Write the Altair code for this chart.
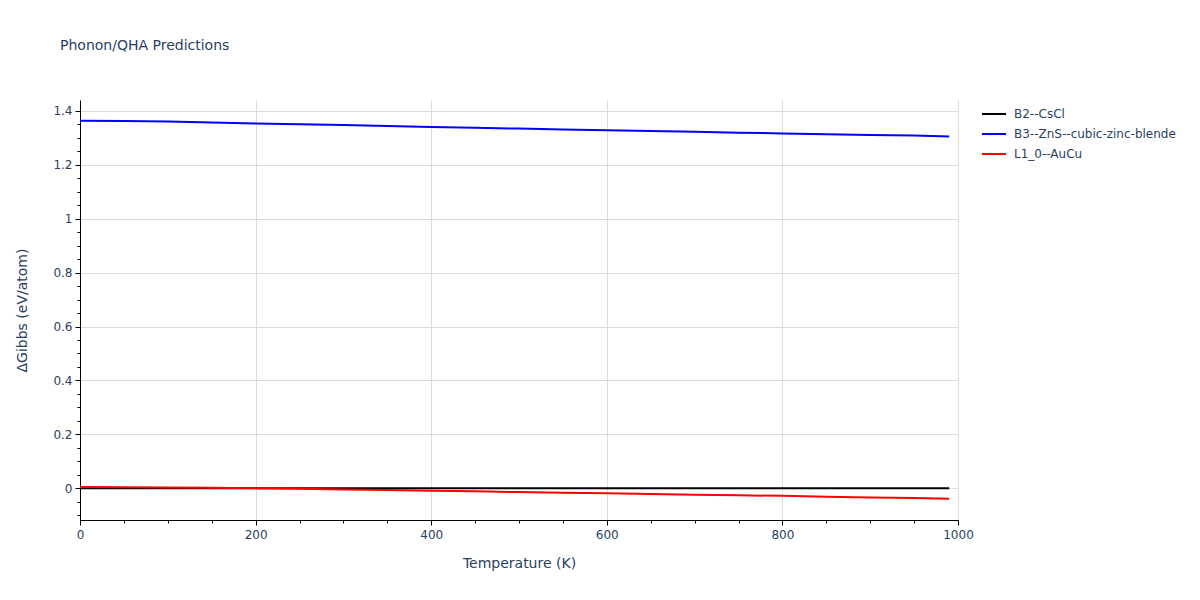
import altair as alt
import pandas as pd

temps = [0, 50, 100, 150, 200, 250, 300, 350, 400, 450, 500, 550, 600, 650, 700, 750, 800, 850, 900, 950, 990]
b2_cscl = [0.0, 0.0, 0.0, 0.0, 0.0, 0.0, 0.0, 0.0, 0.0, 0.0, 0.0, 0.0, 0.0, 0.0, 0.0, 0.0, 0.0, 0.0, 0.0, 0.0, 0.0]
b3_zns = [1.363, 1.362, 1.360, 1.357, 1.353, 1.350, 1.347, 1.344, 1.340, 1.337, 1.334, 1.331,
          1.328, 1.325, 1.322, 1.319, 1.316, 1.313, 1.310, 1.308, 1.305]
l10_aucu = [0.005, 0.004, 0.003, 0.002, 0.000, -0.002, -0.004, -0.006, -0.009, -0.011, -0.014, -0.016,
            -0.018, -0.021, -0.024, -0.026, -0.028, -0.031, -0.034, -0.036, -0.039]
series_names = ["B2--CsCl", "B3--ZnS--cubic-zinc-blende", "L1_0--AuCu"]
series_colors = ["black", "blue", "red"]

x_ticks = [0, 50, 100, 150, 200, 250, 300, 350, 400, 450, 500, 550, 600, 650, 700, 750, 800, 850, 900, 950, 1000]
y_ticks = [-0.1, -0.05, 0, 0.05, 0.1, 0.15, 0.2, 0.25, 0.3, 0.35, 0.4, 0.45, 0.5, 0.55, 0.6, 0.65,
           0.7, 0.75, 0.8, 0.85, 0.9, 0.95, 1.0, 1.05, 1.1, 1.15, 1.2, 1.25, 1.3, 1.35, 1.4]

rows = []
for name, vals in zip(series_names, [b2_cscl, b3_zns, l10_aucu]):
    for t, v in zip(temps, vals):
        rows.append({"T": t, "G": v, "phase": name})
df = pd.DataFrame(rows)

txt = "#2a3f5f"
x_major = "datum.value % 200 == 0"
y_major = "abs(datum.value * 5 - round(datum.value * 5)) < 1e-6"

chart = alt.Chart(df).mark_line(strokeWidth=2).encode(
    x=alt.X("T:Q", title="Temperature (K)",
            scale=alt.Scale(domain=[0, 1000], nice=False, zero=False),
            axis=alt.Axis(values=x_ticks, format="d",
                          labelExpr=f"{x_major} ? datum.label : ''",
                          tickSize={"condition": {"test": x_major, "value": 5}, "value": 3},
                          gridOpacity={"condition": {"test": x_major, "value": 1}, "value": 0},
                          labelFlush=False, labelOverlap=False, labelPadding=4,
                          titlePadding=16)),
    y=alt.Y("G:Q", title="ΔGibbs (eV/atom)",
            scale=alt.Scale(domain=[-0.1175, 1.44], nice=False, zero=False),
            axis=alt.Axis(values=y_ticks, format="~g",
                          labelExpr=f"{y_major} ? datum.label : ''",
                          tickSize={"condition": {"test": y_major, "value": 5}, "value": 3},
                          gridOpacity={"condition": {"test": y_major, "value": 1}, "value": 0},
                          labelOverlap=False, labelPadding=3, titlePadding=23)),
    color=alt.Color("phase:N",
                    scale=alt.Scale(domain=series_names, range=series_colors),
                    legend=alt.Legend(title=None, orient="none", legendX=901, legendY=1,
                                      symbolType="stroke", symbolSize=576, symbolStrokeWidth=2,
                                      labelFontSize=12, labelOffset=7, labelColor=txt,
                                      padding=0, rowPadding=1, labelLimit=400)),
    order=alt.Order("phase:N"),
).properties(
    width=878, height=420,
    autosize=alt.AutoSizeParams(type="none"),
    padding={"left": 72, "top": 92, "right": 234, "bottom": 72},
    title=alt.TitleParams("Phonon/QHA Predictions", anchor="start", frame="group",
                          dx=-20, offset=47, fontSize=14, fontWeight="normal", color=txt),
).configure(
    font="DejaVu Sans",
).configure_view(
    stroke=None,
).configure_axis(
    domainColor="black", tickColor="black", gridColor="#dcdcdc",
    labelColor=txt, titleColor=txt, labelFontSize=12, titleFontSize=14,
    titleFontWeight="normal", domainWidth=1, tickWidth=1,
)

chart.save("out.html", embed_options={"renderer": "svg", "actions": False})
